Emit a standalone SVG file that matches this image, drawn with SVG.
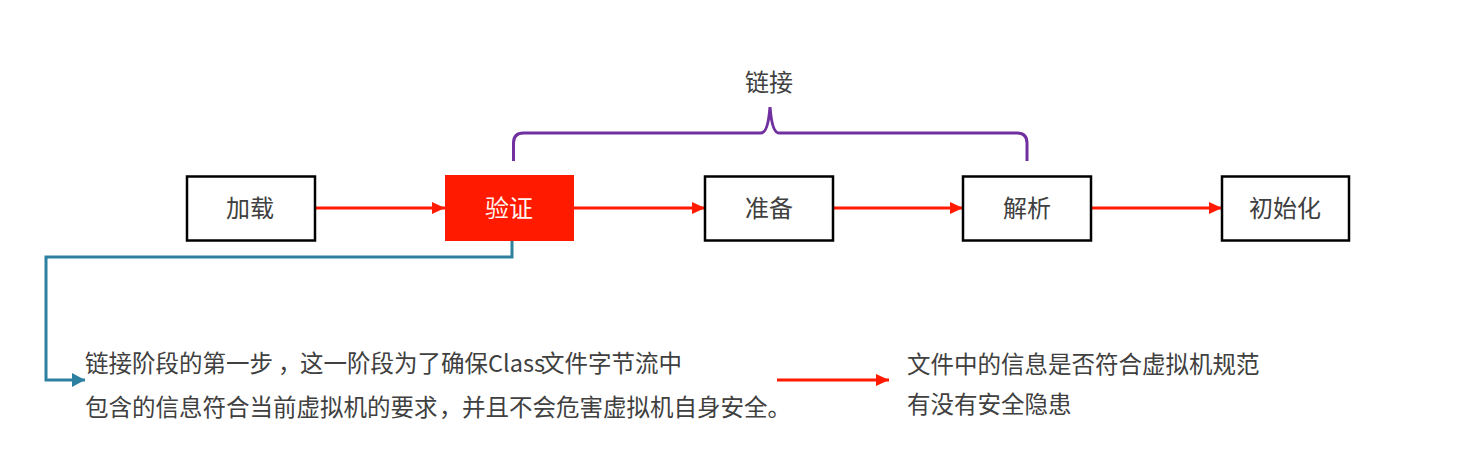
<svg xmlns="http://www.w3.org/2000/svg" width="1463" height="463" viewBox="0 0 1463 463">
<style>
text{font-family:"Noto Sans CJK SC","Microsoft YaHei",sans-serif;fill:#404040}
.box{fill:#fff;stroke:#000;stroke-width:2.5}
.lbl{font-size:24px;text-anchor:middle}
.desc{font-size:23.5px}
.red{fill:none;stroke:#ff1a00;stroke-width:3}
</style>
<defs>
<marker id="ar" markerWidth="13" markerHeight="12" refX="13" refY="6" orient="auto" markerUnits="userSpaceOnUse"><path d="M0,0L13,6L0,12Z" fill="#ff1a00"/></marker>
<marker id="ab" markerWidth="13" markerHeight="14" refX="13" refY="7" orient="auto" markerUnits="userSpaceOnUse"><path d="M0,0L13,7L0,14Z" fill="#2e80a0"/></marker>
</defs>
<rect width="1463" height="463" fill="#fff"/>
<g id="connectors">
<path class="red" d="M315,208H445" marker-end="url(#ar)"/>
<path class="red" d="M574,208H705" marker-end="url(#ar)"/>
<path class="red" d="M833,208H963" marker-end="url(#ar)"/>
<path class="red" d="M1091,208H1222" marker-end="url(#ar)"/>
<path d="M512,241V257H46V380H85" fill="none" stroke="#2e80a0" stroke-width="3" marker-end="url(#ab)"/>
<path class="red" d="M777,380H889" marker-end="url(#ar)"/>
</g>
<g id="brace">
<path d="M513.5,161V143Q513.5,133 523.5,133H761Q768,133 770,107Q772,133 779,133H1017Q1027,133 1027,143V161" fill="none" stroke="#7030a0" stroke-width="3"/>
<text class="lbl" x="769" y="91">链接</text>
</g>
<g id="node-load"><rect class="box" x="187" y="176.5" width="128" height="64"/><text class="lbl" x="250" y="217">加载</text></g>
<g id="node-verify"><rect x="445" y="175" width="129" height="66" fill="#ff1a00"/><text class="lbl" x="509" y="217" style="fill:#fff4f0">验证</text></g>
<g id="node-prepare"><rect class="box" x="705" y="176.5" width="128" height="64"/><text class="lbl" x="769" y="217">准备</text></g>
<g id="node-resolve"><rect class="box" x="963" y="176.5" width="128" height="64"/><text class="lbl" x="1027" y="217">解析</text></g>
<g id="node-init"><rect class="box" x="1222" y="176.5" width="127" height="64"/><text class="lbl" x="1285" y="217">初始化</text></g>
<g id="desc-left">
<text class="desc" y="372"><tspan x="85">链接阶段的第一步</tspan><tspan x="278">，</tspan><tspan x="300">这一阶段为了确保Class</tspan><tspan x="541">文件字节流中</tspan></text>
<text class="desc" y="416"><tspan x="85">包含的信息符合当前虚拟机的要求</tspan><tspan x="439">，</tspan><tspan x="462">并且不会危害虚拟机自身安全。</tspan></text>
</g>
<g id="desc-right">
<text class="desc" x="907" y="373">文件中的信息是否符合虚拟机规范</text>
<text class="desc" x="907" y="413">有没有安全隐患</text>
</g>
</svg>
